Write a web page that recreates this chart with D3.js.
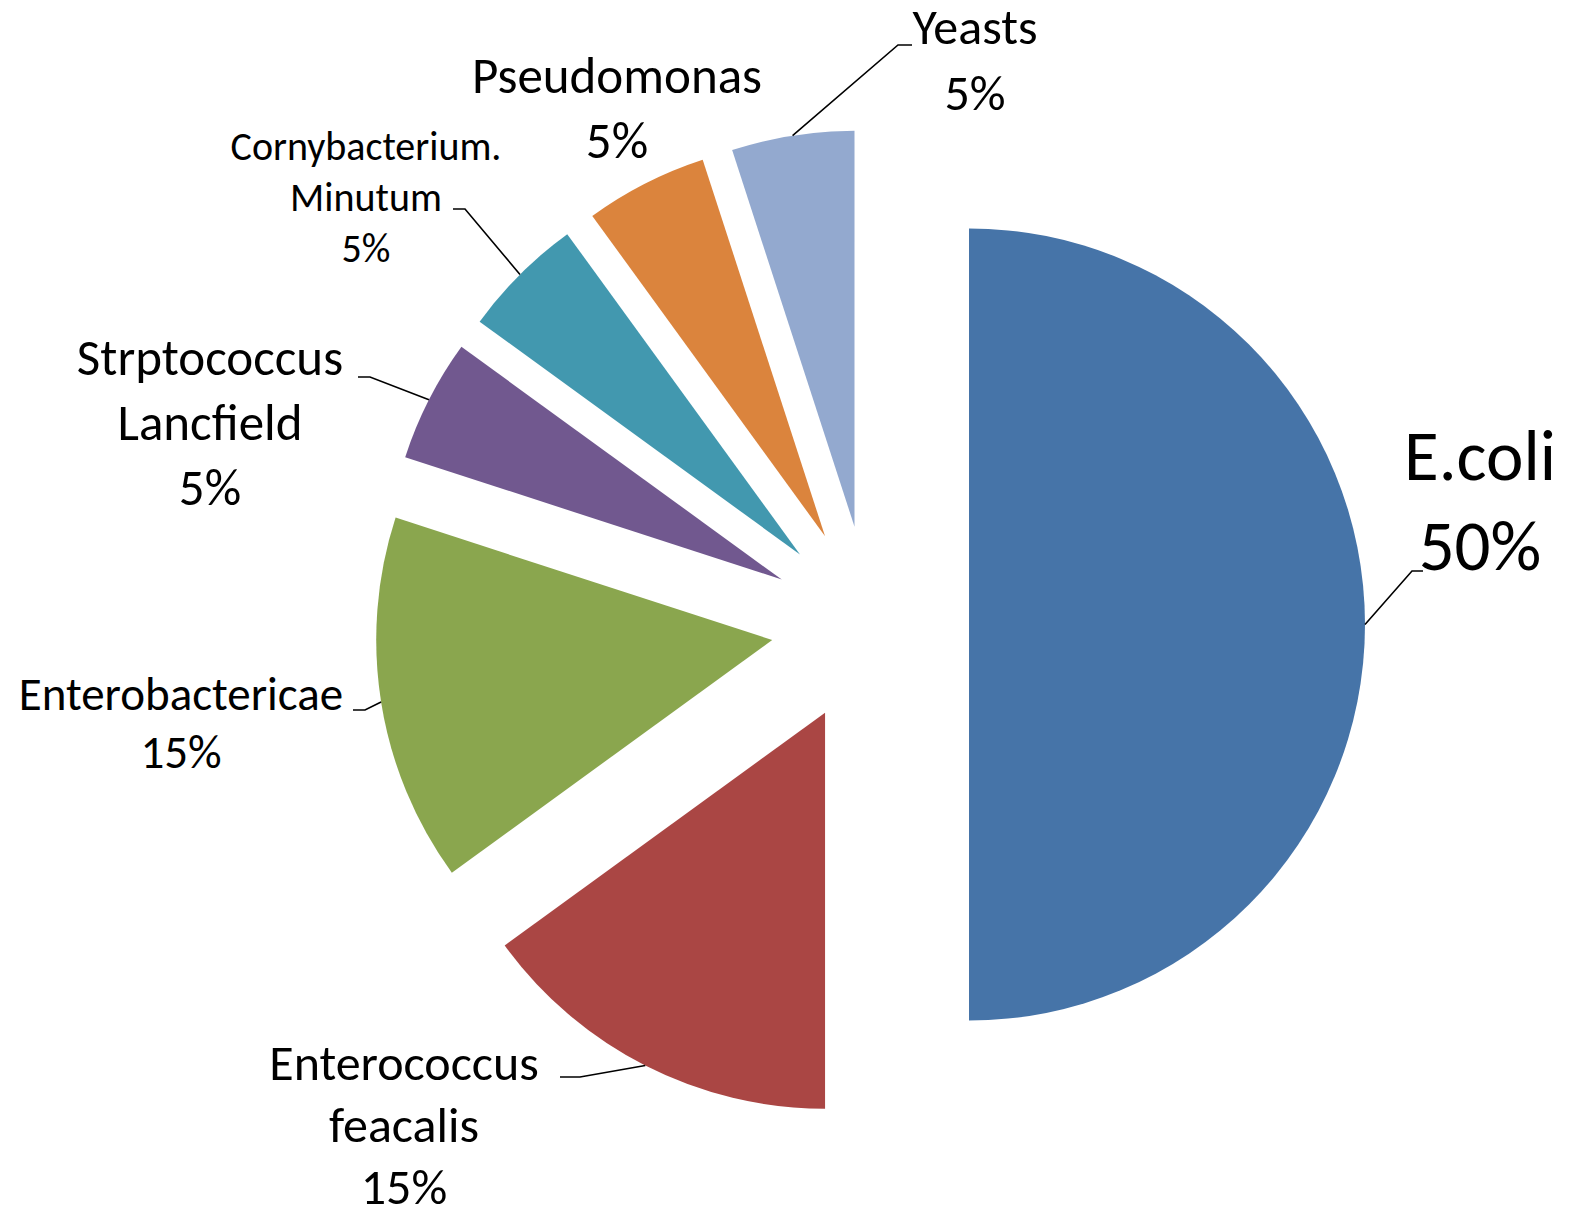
<!DOCTYPE html>
<html>
<head>
<meta charset="utf-8">
<script src="https://cdn.jsdelivr.net/npm/d3@7"></script>
<style>
    body { margin: 0; background: #fff; }
    .pieChart text { font-family: Carlito, Lato, "Open Sans", sans-serif; fill: #000; }
</style>
</head>
<body>
<div class="pieChart"><svg></svg></div>
<script>
// data (percent of isolates)
var organisms = ["E.coli", "Enterococcus feacalis", "Enterobactericae", "Strptococcus Lancfield",
    "Cornybacterium. Minutum", "Pseudomonas", "Yeasts"];
var percentages = [50, 15, 15, 5, 5, 5, 5];
var labelLines = [["E.coli"], ["Enterococcus", "feacalis"], ["Enterobactericae"], ["Strptococcus", "Lancfield"],
    ["Cornybacterium.", "Minutum"], ["Pseudomonas"], ["Yeasts"]];
var sliceColors = ["#4674A8", "#AA4644", "#8AA64E", "#71588F", "#4298AF", "#DB843D", "#93A9CF"];

// where the labels sit: center x, first baseline, line gap, font size, leader end [elbow x, end x, y]
var labelLayout = [
    {x: 1480, y: 480, gap: 90, size: 71, leader: [1412, 1423, 571]},
    {x: 404, y: 1080, gap: 62, size: 50, leader: [580, 560, 1077]},
    {x: 181, y: 710, gap: 58, size: 47, leader: [365, 353, 710]},
    {x: 210, y: 375, gap: 65, size: 51, leader: [370, 358, 377]},
    {x: 366, y: 160, gap: 51, size: 40, leader: [465, 453, 209]},
    {x: 617, y: 93, gap: 65, size: 51, leader: null},
    {x: 975, y: 44, gap: 66, size: 50, leader: [898, 912, 45]}
];

var width = 1581, height = 1214;
var cx = 870, cy = 624.5;
var radius = 396;
var explode = 99;

var svg = d3.select(".pieChart").select("svg")
    .attr("width", width)
    .attr("height", height);

var pie = d3.pie()
    .sort(null)
    .value(function(d) { return d; });

var arcs = pie(percentages);
var total = d3.sum(percentages);

var arc = d3.arc()
    .innerRadius(0)
    .outerRadius(radius);

// point on the edge of the exploded slice, used for leader lines
var edgeArc = d3.arc()
    .innerRadius(radius + explode)
    .outerRadius(radius + explode);

function offset(d) {
    var mid = (d.startAngle + d.endAngle) / 2;
    return [Math.sin(mid) * explode, -Math.cos(mid) * explode];
}

var g = svg.append("g")
    .attr("transform", "translate(" + cx + "," + cy + ")");

g.selectAll(".slice")
    .data(arcs)
    .enter()
    .append("path")
    .attr("class", "slice")
    .attr("d", arc)
    .attr("fill", function(d, i) { return sliceColors[i]; })
    .attr("transform", function(d) {
        var o = offset(d);
        return "translate(" + o[0] + "," + o[1] + ")";
    });

// leader lines
g.selectAll(".leader")
    .data(arcs.filter(function(d, i) { return labelLayout[i].leader; }))
    .enter()
    .append("polyline")
    .attr("class", "leader")
    .attr("fill", "none")
    .attr("stroke", "#000")
    .attr("stroke-width", 1.6)
    .attr("points", function(d) {
        var p = edgeArc.centroid(d);
        var l = labelLayout[d.index].leader;
        return [p, [l[0] - cx, l[2] - cy], [l[1] - cx, l[2] - cy]].join(" ");
    });

// labels
var labels = svg.selectAll(".label")
    .data(arcs)
    .enter()
    .append("text")
    .attr("class", "label")
    .attr("text-anchor", "middle")
    .attr("x", function(d, i) { return labelLayout[i].x; })
    .attr("y", function(d, i) { return labelLayout[i].y; })
    .style("font-size", function(d, i) { return labelLayout[i].size + "px"; });

labels.each(function(d, i) {
    var lines = labelLines[i].concat([Math.round(d.value / total * 100) + "%"]);
    var t = d3.select(this);
    lines.forEach(function(line, k) {
        t.append("tspan")
            .attr("x", labelLayout[i].x)
            .attr("dy", k == 0 ? 0 : labelLayout[i].gap)
            .text(line);
    });
});
</script>
</body>
</html>
